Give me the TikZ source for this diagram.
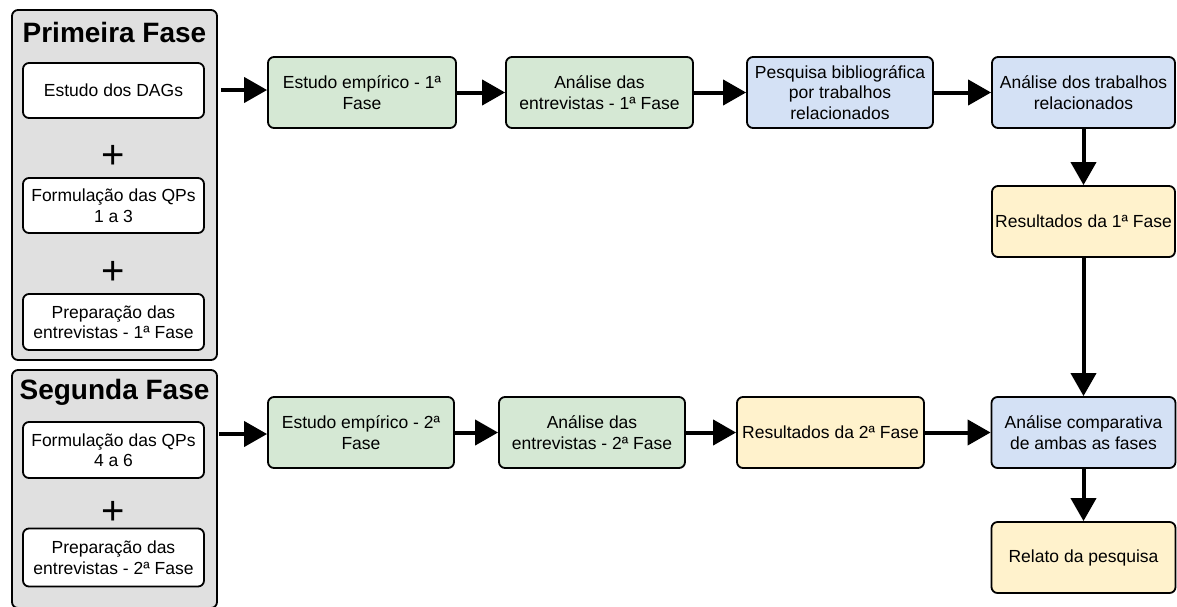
\documentclass[tikz,border=0pt]{standalone}
\usepackage{fontspec}
\setmainfont{Liberation Sans}
\usetikzlibrary{arrows.meta}

\definecolor{panelgray}{HTML}{E0E0E0}
\definecolor{stepgreen}{HTML}{D5E8D4}
\definecolor{stepblue}{HTML}{D4E1F5}
\definecolor{stepyellow}{HTML}{FFF2CC}

\tikzset{
  box/.style={draw=black, line width=1.8pt, rounded corners=6pt, align=center,
    inner sep=0pt, font=\fontsize{17.5}{20.5}\selectfont},
  flowbox/.style={box, minimum height=71pt},
  greenbox/.style={flowbox, fill=stepgreen},
  bluebox/.style={flowbox, fill=stepblue},
  yellowbox/.style={flowbox, fill=stepyellow},
  itembox/.style={box, fill=white, minimum width=181pt},
  panel/.style={draw=black, line width=1.8pt, rounded corners=6pt, fill=panelgray,
    inner sep=0pt},
  paneltitle/.style={font=\fontsize{28}{30}\selectfont\bfseries, inner sep=0pt},
  plus/.style={font=\fontsize{40}{40}\selectfont, inner sep=0pt},
  flow/.style={line width=4pt, -{Triangle[length=23pt, width=25pt]}},
}

\begin{document}
\begin{tikzpicture}[x=1pt, y=-1pt]
  \useasboundingbox (0,0) rectangle (1177,606);

  % phase panels on the left
  \node[panel, minimum width=205pt, minimum height=350pt] (p1) at (114.5,185) {};
  \node[panel, minimum width=205pt, minimum height=238pt] (p2) at (114.5,489) {};

  \node[paneltitle] (t1) at (114.5,32) {Primeira Fase};
  \node[itembox, minimum height=55pt] (i1) at (113.5,90.5) {Estudo dos DAGs};
  \node[plus] (s1) at (113.5,157) {+};
  \node[itembox, minimum height=55pt] (i2) at (113.5,205.5) {Formulação das QPs\\1 a 3};
  \node[plus] (s2) at (113.5,273) {+};
  \node[itembox, minimum height=56pt] (i3) at (113.5,322) {Preparação das\\entrevistas - 1ª Fase};

  \node[paneltitle] (t2) at (114.5,392) {Segunda Fase};
  \node[itembox, minimum height=56pt] (i4) at (113.5,450) {Formulação das QPs\\4 a 6};
  \node[plus] (s3) at (113.5,513) {+};
  \node[itembox, minimum height=58pt] (i5) at (113.5,557.5) {Preparação das\\entrevistas - 2ª Fase};

  % first phase flow
  \node[greenbox, minimum width=188pt] (g1) at (362,92.5) {Estudo empírico - 1ª\\Fase};
  \node[greenbox, minimum width=187pt] (g2) at (599.5,92.5) {Análise das\\entrevistas - 1ª Fase};
  \node[bluebox, minimum width=186pt] (b1) at (840,92.5) {Pesquisa bibliográfica\\por trabalhos\\relacionados};
  \node[bluebox, minimum width=183pt] (b2) at (1083.5,92.5) {Análise dos trabalhos\\relacionados};
  \node[yellowbox, minimum width=183pt] (y1) at (1083.5,221.5) {Resultados da 1ª Fase};

  % second phase flow
  \node[greenbox, minimum width=186pt] (g3) at (361,432.5) {Estudo empírico - 2ª\\Fase};
  \node[greenbox, minimum width=186pt] (g4) at (592,432.5) {Análise das\\entrevistas - 2ª Fase};
  \node[yellowbox, minimum width=187pt] (y2) at (830.5,432.5) {Resultados da 2ª Fase};
  \node[bluebox, minimum width=184pt] (b3) at (1083.5,432.5) {Análise comparativa\\de ambas as fases};
  \node[yellowbox, minimum width=184pt] (r) at (1083.5,557.5) {Relato da pesquisa};

  % entry points of the two phases
  \coordinate (e1) at ([yshift=2.5pt]g1.west);
  \coordinate (e3) at ([yshift=-1.5pt]g3.west);
  \coordinate (o1) at ([xshift=3pt]p1.east |- e1);
  \coordinate (o3) at ([xshift=1pt]p2.east |- e3);

  % connectors
  \draw[flow] (o1) -- (e1);
  \draw[flow] (g1) -- (g2);
  \draw[flow] (g2) -- (b1);
  \draw[flow] (b1) -- (b2);
  \draw[flow] (b2) -- (y1);
  \draw[flow] (y1) -- (b3);
  \draw[flow] (o3) -- (e3);
  \draw[flow] (g3) -- (g4);
  \draw[flow] (g4) -- (y2);
  \draw[flow] (y2) -- (b3);
  \draw[flow] (b3) -- (r);
\end{tikzpicture}
\end{document}
